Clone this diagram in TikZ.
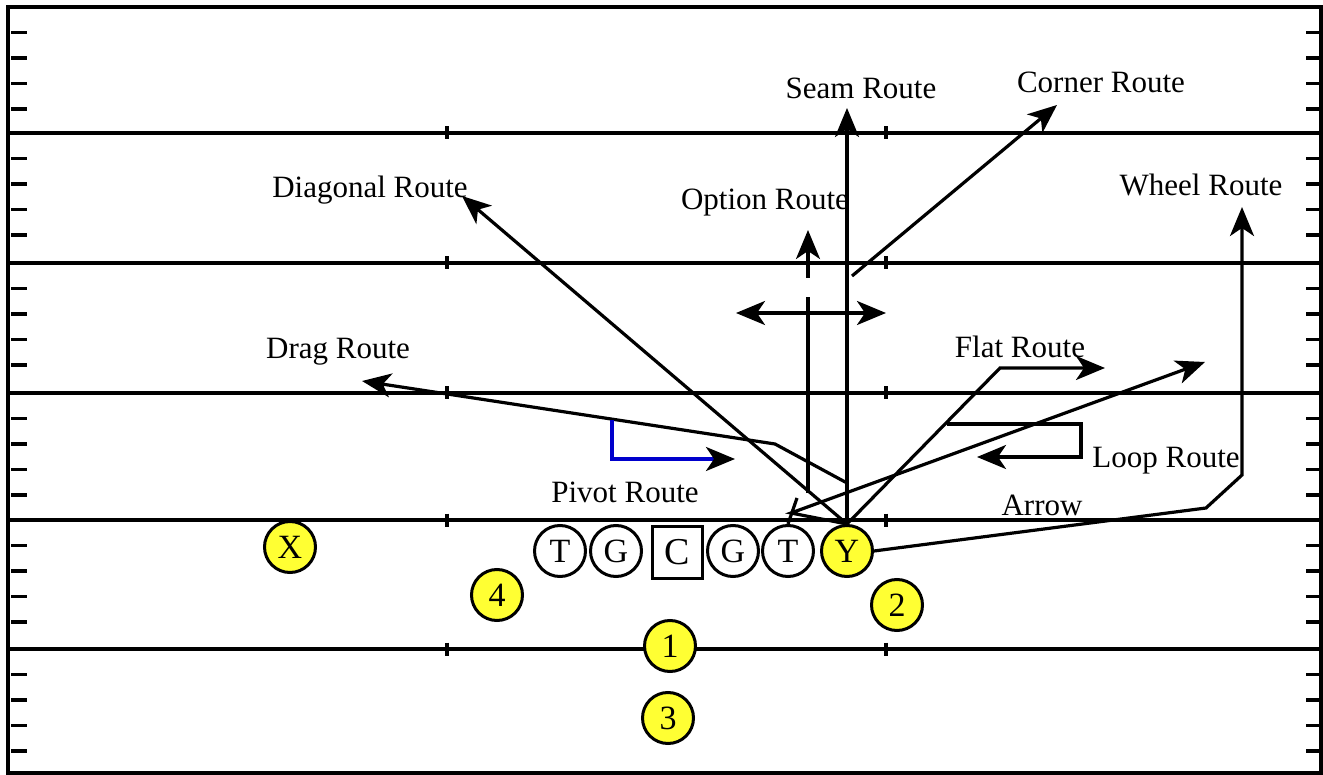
\documentclass[tikz,border=0pt]{standalone}
\usepackage{fontspec}
\setmainfont{Liberation Serif}
\usetikzlibrary{arrows.meta}
\definecolor{ylw}{RGB}{255,255,51}
\definecolor{pivotblue}{RGB}{0,0,204}

\begin{document}
\begin{tikzpicture}[x=1pt, y=-1pt,
  field/.style={line width=3.2pt},
  player/.style={circle, draw, line width=3pt, fill=white, minimum size=51pt,
                 inner sep=0pt, font=\fontsize{34}{34}\selectfont},
  skill/.style={player, fill=ylw},
  snapper/.style={rectangle, draw, line width=3pt, fill=white, minimum width=50pt,
                  minimum height=52pt, inner sep=0pt, font=\fontsize{38}{38}\selectfont},
  route/.style={line width=3.2pt},
  routetip/.tip={Stealth[length=29pt, width=24pt, inset=8pt, color=black]},
  arr/.style={route, -{routetip}},
  darr/.style={route, {routetip}-{routetip}},
  lbl/.style={font=\fontsize{31}{31}\selectfont, inner sep=0pt}
]
  \useasboundingbox (0,0) rectangle (1323,775);

  % Terrain
  \draw[field] (8,7) rectangle (1321,773);
  \foreach \y in {133,263,393,520,649} {
    \draw[field] (8,\y) -- (1321,\y);
    \foreach \x in {447,886}
      \draw[field] (\x,\y-6.5) -- (\x,\y+6.5);
  }
  \foreach \y in {7,133,263,393,520,649} {
    \foreach \k in {1,...,4} {
      \pgfmathsetmacro{\t}{\y + \k*25.5}
      \draw[field] (11,\t) -- (27,\t);
      \draw[field] (1306,\t) -- (1321,\t);
    }
  }

  % Joueurs
  \node[skill] (x) at (290,547) {X};
  \foreach \n/\t/\x in {t1/T/560, g1/G/616, g2/G/733, t2/T/788}
    \node[player] (\n) at (\x,551) {\t};
  \node[snapper] (c) at (677,552) {C};
  \node[skill] (y) at (847,551) {Y};
  \foreach \n/\x/\y in {1/670/646, 2/897/605, 3/668/718, 4/497/595}
    \node[skill] (b\n) at (\x,\y) {\n};

  % Points des routes
  \coordinate (seamtip) at (847,108);
  \coordinate (cornerstart) at (852,276);
  \coordinate (cornertip) at (1057,105);
  \coordinate (diagtip) at (462,196);
  \coordinate (optbase) at (808,493);
  \coordinate (optgap) at (808,297);
  \coordinate (optdash) at (808,278);
  \coordinate (opttip) at (808,230);
  \coordinate (optleft) at (736,313);
  \coordinate (optright) at (886,313);
  \coordinate (dragstart) at (847,483);
  \coordinate (dragbend) at (775,444);
  \coordinate (dragtip) at (362,381);
  \coordinate (pivotstart) at (612,420);
  \coordinate (pivotbend) at (612,459);
  \coordinate (pivottip) at (735,459);
  \coordinate (flatbend) at (1000,368);
  \coordinate (flattip) at (1105,368);
  \coordinate (loopstart) at (947,424);
  \coordinate (loopa) at (1081,424);
  \coordinate (loopb) at (1081,457);
  \coordinate (looptip) at (977,457);
  \coordinate (arrowbend) at (791,513);
  \coordinate (arrowtip) at (1205,362);
  \coordinate (arrowmark) at (797,498);
  \coordinate (wheela) at (1206,508);
  \coordinate (wheelb) at (1242,475);
  \coordinate (wheeltip) at (1242,207);

  % Routes
  \draw[arr] (y.north) -- (seamtip);
  \draw[arr] (cornerstart) -- (cornertip);
  \draw[arr] (y.north) -- (diagtip);
  \draw[route] (optbase) -- (optgap);
  \draw[arr] (optdash) -- (opttip);
  \draw[darr] (optleft) -- (optright);
  \draw[arr] (dragstart) -- (dragbend) -- (dragtip);
  \draw[arr, pivotblue] (pivotstart) -- (pivotbend) -- (pivottip);
  \draw[arr] (y.north) -- (flatbend) -- (flattip);
  \draw[arr] (loopstart) -- (loopa) -- (loopb) -- (looptip);
  \draw[arr] (y.north) -- (arrowbend) -- (arrowtip);
  \draw[route] (arrowmark) -- (t2.north);
  \draw[arr] (y.east) -- (wheela) -- (wheelb) -- (wheeltip);

  % Etiquettes
  \node[lbl] (seamlbl) at (861,88) {Seam Route};
  \node[lbl] (cornerlbl) at (1101,82) {Corner Route};
  \node[lbl] (diaglbl) at (370,190) {Diagonal Route};
  \node[lbl] (optlbl) at (765,203) {Option Route};
  \node[lbl] (wheellbl) at (1201,185) {Wheel Route};
  \node[lbl] (draglbl) at (338,352) {Drag Route};
  \node[lbl] (flatlbl) at (1020,347) {Flat Route};
  \node[lbl] (looplbl) at (1166,461) {Loop Route};
  \node[lbl] (arrowlbl) at (1042,505) {Arrow};
  \node[lbl] (pivotlbl) at (625,492) {Pivot Route};
\end{tikzpicture}
\end{document}
